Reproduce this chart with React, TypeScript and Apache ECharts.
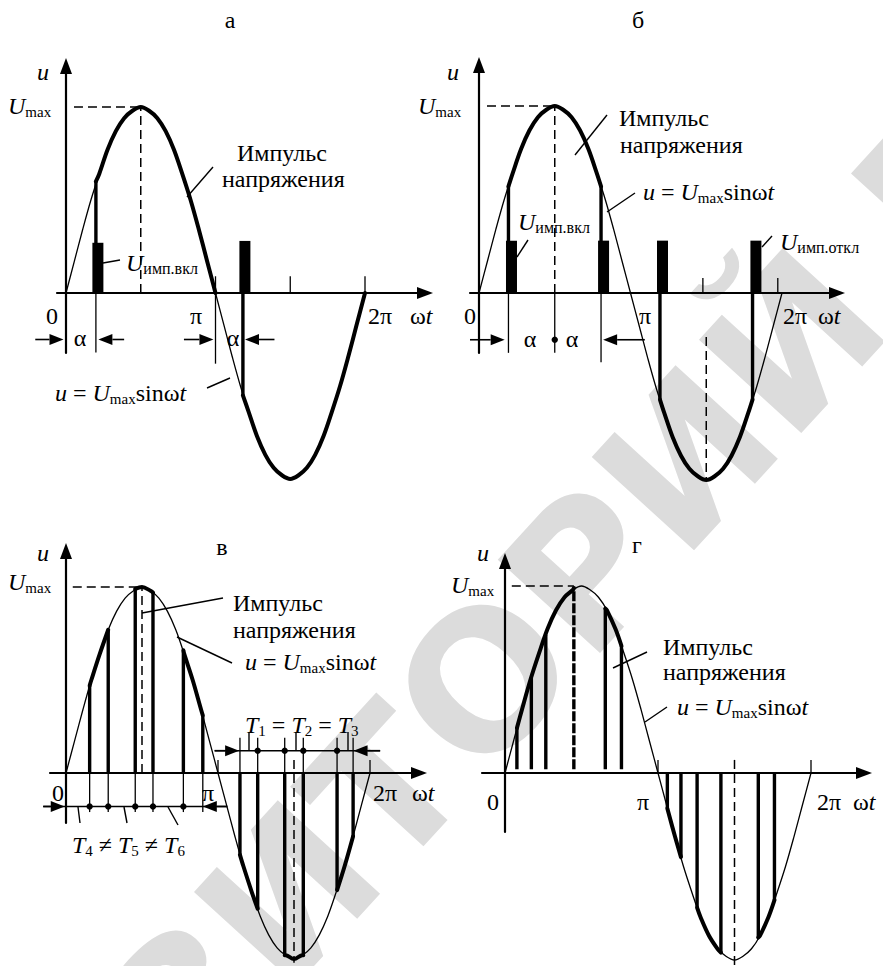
import React, { useEffect, useRef } from 'react';
import * as echarts from 'echarts';

// ---------- data (degrees of ωt, values in units of Umax) ----------
const SINE_DEG = [0, 10, 20, 30, 40, 50, 60, 70, 80, 90, 100, 110, 120, 130, 140, 150, 160, 170, 180,
  190, 200, 210, 220, 230, 240, 250, 260, 270, 280, 290, 300, 310, 320, 330, 340, 350, 360];
const SINE_VAL = [0, 0.17, 0.34, 0.5, 0.64, 0.77, 0.87, 0.94, 0.98, 1, 0.98, 0.94, 0.87, 0.77, 0.64, 0.5, 0.34, 0.17, 0,
  -0.17, -0.34, -0.5, -0.64, -0.77, -0.87, -0.94, -0.98, -1, -0.98, -0.94, -0.87, -0.77, -0.64, -0.5, -0.34, -0.17, 0];

// panel а
const A_ARCS = [[36, 0.6, 180, 0], [213, -0.55, 360, 0]];
const A_THICK_V = [[36, 0, 0.6], [213, 0, -0.55]];
const A_THIN_V = [[36, 0, -0.32], [180, 0.09, -0.38], [270, 0, 0.09], [360, 0, 0.09]];
const A_DASH_V = [[90, 0, 1]];
const A_DASH_H = [[9.6, 90, 1]];
const A_PULSES = [[38.4, 0.27], [215.4, 0.28]];
const A_ARROWS = [[-37, -3, -0.25], [70, 39, -0.25], [142, 177.5, -0.25], [251, 215.5, -0.25]];

// panel б
const B_ARCS = [[35, 0.57, 145, 0.57], [215, -0.57, 325, -0.57]];
const B_THICK_V = [[35, 0, 0.57], [145, 0, 0.57], [215, 0, -0.57], [325, 0, -0.57]];
const B_THIN_V = [[35, 0, -0.32], [90, 0, -0.32], [145, 0, -0.37], [266, 0, 0.08], [355, 0, 0.08]];
const B_DASH_V = [[90, 0, 1], [270, -0.235, -1]];
const B_DASH_H = [[9.5, 90, 1]];
const B_PULSES = [[38.6, 0.28], [148, 0.28], [218, 0.28], [329, 0.28]];
const B_DOTS = [[90, -0.25]];
const B_ARROWS = [[-10.7, 30.5, -0.25], [197, 147.5, -0.25]];

// panel в
const C_POS_X = [28, 50, 82, 103, 139, 162];
const C_POS_U = [0.47, 0.77, 0.99, 0.97, 0.66, 0.31];
const C_NEG_X = [206, 227, 259, 281, 321, 340];
const C_NEG_U = [-0.44, -0.73, -0.98, -0.98, -0.63, -0.34];
const C_POS_EXT = -0.21;
const C_NEG_EXT = 0.19;
const C_THIN_V = [[180, 0, 0.07], [360, 0, 0.07]];
const C_DASH_V = [[90, 0, 1], [270, 0.07, -1.02]];
const C_DASH_H = [[8, 90, 1]];
const C_DIM_H = [[-27, 191, -0.18], [176, 372, 0.12]];
const C_ARROWS = [[-27, -1.5, -0.18], [191, 162, -0.18], [176, 205, 0.12], [372, 340.5, 0.12]];
const C_DOTS = [[28, -0.18], [50, -0.18], [82, -0.18], [103, -0.18], [139, -0.18],
  [227, 0.12], [259, 0.12], [281, 0.12], [321, 0.12]];

// panel г
const D_POS_X = [14, 31, 48, 81, 118, 137];
const D_POS_U = [0.24, 0.51, 0.74, 0.99, 0.88, 0.68];
const D_NEG_X = [191, 207, 226, 254, 298, 317];
const D_NEG_U = [-0.19, -0.45, -0.72, -0.96, -0.88, -0.68];
const D_ARCS = [[14, 0.24, 81, 0.99], [118, 0.88, 137, 0.68], [191, -0.19, 207, -0.45],
  [226, -0.72, 254, -0.96], [298, -0.88, 317, -0.68]];
const D_THIN_V = [[180, 0, 0.07], [360, 0, 0.07]];
const D_DASH_V = [[270, 0.07, -1.03]];
const D_DASH_H = [[8, 81, 1]];

// ---------- layout (pixels) ----------
const LAYOUT = [
  { originX: 66, degPx: 299 / 360, axisY: 293, amp: 186, xStart: 57, xTip: 433, yTip: 58, yBottom: 353 },
  { originX: 479, degPx: 303 / 360, axisY: 293, amp: 187, xStart: 470, xTip: 845, yTip: 57, yBottom: 353 },
  { originX: 66, degPx: 304 / 360, axisY: 773, amp: 186, xStart: 50, xTip: 427, yTip: 543, yBottom: 823 },
  { originX: 505, degPx: 306 / 360, axisY: 773, amp: 187, xStart: 482, xTip: 872, yTip: 553, yBottom: 832 },
];
const ARROW_H = 16;
const ARROW_W = 12;

const FONT = 'Liberation Serif';
const FS = 24;
const RICH = {
  i: { fontFamily: FONT, fontSize: FS, fontStyle: 'italic', lineHeight: 26 },
  r: { fontFamily: FONT, fontSize: FS, lineHeight: 26 },
  s: { fontFamily: FONT, fontSize: 15, lineHeight: 6, verticalAlign: 'bottom' },
  t: { fontFamily: FONT, fontSize: 16, lineHeight: 6, verticalAlign: 'bottom' },
};

const UMAX = '{i|U}{s|max}';
const FORMULA = '{i|u}{r| = }{i|U}{s|max}{r|sinω}{i|t}';
const OMEGA_T = '{r|ω}{i|t}';

const TEXTS: [number, number, string, string?][] = [
  // а
  [230, 20, 'а', 'center'], [43, 72, '{i|u}', 'center'], [8, 106, UMAX],
  [237, 153, 'Импульс'], [222, 179, 'напряжения'], [126, 263, '{i|U}{t|имп.вкл}'],
  [52, 316, '0', 'center'], [196, 316, 'π', 'center'], [368, 316, '2π'], [410, 316, OMEGA_T],
  [80, 338, 'α', 'center'], [233, 338, 'α', 'center'], [55, 393, FORMULA],
  // б
  [638, 20, 'б', 'center'], [453, 72, '{i|u}', 'center'], [418, 106, UMAX],
  [619, 118, 'Импульс'], [620, 145, 'напряжения'], [643, 192, FORMULA],
  [518, 222, '{i|U}{t|имп.вкл}'], [780, 242, '{i|U}{t|имп.откл}'],
  [470, 316, '0', 'center'], [645, 316, 'π', 'center'], [783, 316, '2π'], [818, 316, OMEGA_T],
  [530, 339, 'α', 'center'], [572, 339, 'α', 'center'],
  // в
  [222, 547, 'в', 'center'], [43, 553, '{i|u}', 'center'], [8, 582, UMAX],
  [233, 603, 'Импульс'], [233, 630, 'напряжения'], [245, 662, FORMULA],
  [245, 725, '{i|T}{s|1}{r| = }{i|T}{s|2}{r| = }{i|T}{s|3}'],
  [58, 793, '0', 'center'], [208, 793, 'π', 'center'], [373, 793, '2π'], [412, 793, OMEGA_T],
  [72, 845, '{i|T}{s|4}{r| ≠ }{i|T}{s|5}{r| ≠ }{i|T}{s|6}'],
  // г
  [637, 545, 'г', 'center'], [483, 553, '{i|u}', 'center'], [451, 585, UMAX],
  [663, 647, 'Импульс'], [663, 672, 'напряжения'], [677, 707, FORMULA],
  [493, 802, '0', 'center'], [643, 802, 'π', 'center'], [817, 802, '2π'], [853, 802, OMEGA_T],
];

const LEADERS = [
  [187, 197, 213, 167], [103, 263, 120, 260], [207, 388, 230, 378],
  [575, 155, 607, 115], [607, 212, 635, 193], [517, 257, 528, 240], [762, 247, 772, 236],
  [142, 613, 223, 598], [177, 637, 232, 663], [78, 807, 80, 823], [124, 807, 127, 823], [168, 807, 178, 825],
  [249, 732, 249, 750], [296, 732, 296, 750], [348, 732, 348, 750],
  [613, 668, 647, 652], [645, 722, 667, 707],
];

// ---------- helpers ----------
function arcPoints(a: number, av: number, b: number, bv: number) {
  const pts: number[][] = [[a, av]];
  SINE_DEG.forEach((d, k) => { if (d > a && d < b) pts.push([d, SINE_VAL[k]]); });
  pts.push([b, bv]);
  return pts;
}

function lineSeries(g: number, data: number[][], width: number) {
  return {
    type: 'line', xAxisIndex: g, yAxisIndex: g, data, smooth: 0.35, symbol: 'none', showSymbol: false,
    clip: false, silent: true, lineStyle: { color: '#000', width, cap: 'round', join: 'round' }, z: width > 2 ? 4 : 3,
  };
}

function custom(g: number, data: number[][], render: (api: any) => any, z = 5) {
  return {
    type: 'custom', coordinateSystem: 'cartesian2d', xAxisIndex: g, yAxisIndex: g, data, clip: false, silent: true, z,
    renderItem: (_p: any, api: any) => render(api),
  };
}

function vlines(g: number, data: number[][], width: number, dash?: number[]) {
  return custom(g, data, (api) => {
    const p0 = api.coord([api.value(0), api.value(1)]);
    const p1 = api.coord([api.value(0), api.value(2)]);
    return { type: 'line', shape: { x1: p0[0], y1: p0[1], x2: p1[0], y2: p1[1] }, style: { stroke: '#000', lineWidth: width, lineDash: dash } };
  });
}

function hlines(g: number, data: number[][], width: number, dash?: number[]) {
  return custom(g, data, (api) => {
    const p0 = api.coord([api.value(0), api.value(2)]);
    const p1 = api.coord([api.value(1), api.value(2)]);
    return { type: 'line', shape: { x1: p0[0], y1: p0[1], x2: p1[0], y2: p1[1] }, style: { stroke: '#000', lineWidth: width, lineDash: dash } };
  });
}

function pulses(g: number, data: number[][]) {
  return custom(g, data, (api) => {
    const b = api.coord([api.value(0), 0]);
    const t = api.coord([api.value(0), api.value(1)]);
    return { type: 'rect', shape: { x: b[0] - 5.5, y: t[1], width: 11, height: b[1] - t[1] }, style: { fill: '#000' } };
  }, 6);
}

function dots(g: number, data: number[][]) {
  return custom(g, data, (api) => {
    const c = api.coord([api.value(0), api.value(1)]);
    return { type: 'circle', shape: { cx: c[0], cy: c[1], r: 3.2 }, style: { fill: '#000' } };
  }, 7);
}

function arrows(g: number, data: number[][]) {
  return custom(g, data, (api) => {
    const tail = api.coord([api.value(0), api.value(2)]);
    const tip = api.coord([api.value(1), api.value(2)]);
    const dir = tip[0] > tail[0] ? 1 : -1;
    const L = 14, W = 5.5;
    return {
      type: 'group', children: [
        { type: 'line', shape: { x1: tail[0], y1: tail[1], x2: tip[0] - dir * L, y2: tip[1] }, style: { stroke: '#000', lineWidth: 1.6 } },
        { type: 'polygon', shape: { points: [[tip[0], tip[1]], [tip[0] - dir * L, tip[1] - W], [tip[0] - dir * L, tip[1] + W]] }, style: { fill: '#000' } },
      ],
    };
  }, 7);
}

const THIN = 1.3, THICK = 4, VTHICK = 3.4, DASH = [9, 5];

function panelSeries(g: number, p: any) {
  const s: any[] = [];
  s.push(lineSeries(g, SINE_DEG.map((d, k) => [d, SINE_VAL[k]]), THIN));
  p.arcs.forEach((a: number[]) => s.push(lineSeries(g, arcPoints(a[0], a[1], a[2], a[3]), THICK)));
  if (p.thickV) s.push(vlines(g, p.thickV, VTHICK));
  if (p.thinV) s.push(vlines(g, p.thinV, THIN));
  if (p.dashV) s.push(vlines(g, p.dashV, 1.5, DASH));
  if (p.dashThickV) s.push(vlines(g, p.dashThickV, VTHICK, [10, 2]));
  if (p.dashH) s.push(hlines(g, p.dashH, 1.5, DASH));
  if (p.dimH) s.push(hlines(g, p.dimH, 1.6));
  if (p.pulses) s.push(pulses(g, p.pulses));
  if (p.arrows) s.push(arrows(g, p.arrows));
  if (p.dots) s.push(dots(g, p.dots));
  return s;
}

function textEl(x: number, y: number, text: string, align?: string) {
  const isRich = text.indexOf('{') >= 0;
  const style: any = isRich
    ? { text, fill: '#000', rich: RICH, align: align || 'left', verticalAlign: 'middle' }
    : { text, fill: '#000', fontFamily: FONT, fontSize: FS, align: align || 'left', verticalAlign: 'middle' };
  return { type: 'text', x, y, z: 20, style };
}

function buildOption() {
  const grid: any[] = [], xAxis: any[] = [], yAxis: any[] = [];
  LAYOUT.forEach((L, g) => {
    const right = L.xTip - ARROW_H / 2;
    const top = L.yTip + ARROW_H / 2;
    grid.push({ left: L.xStart, top, width: right - L.xStart, height: L.yBottom - top, outerBoundsMode: 'none' });
    const axisLine = { onZero: true, symbol: ['none', 'triangle'], symbolSize: [ARROW_W, ARROW_H], lineStyle: { color: '#000', width: 2.2 } };
    xAxis.push({
      gridIndex: g, type: 'value', min: (L.xStart - L.originX) / L.degPx, max: (right - L.originX) / L.degPx,
      axisLine, axisTick: { show: false }, axisLabel: { show: false }, splitLine: { show: false },
    });
    yAxis.push({
      gridIndex: g, type: 'value', min: -(L.yBottom - L.axisY) / L.amp, max: (L.axisY - top) / L.amp,
      axisLine, axisTick: { show: false }, axisLabel: { show: false }, splitLine: { show: false },
    });
  });

  const C_THICK_V = [
    ...C_POS_X.map((x, k) => [x, 0, C_POS_U[k]]),
    ...C_NEG_X.map((x, k) => [x, 0, C_NEG_U[k]]),
  ];
  const C_EXT_V = [
    ...C_POS_X.map((x) => [x, 0, C_POS_EXT]),
    ...C_NEG_X.map((x) => [x, 0, C_NEG_EXT]),
  ];
  const C_ARCS: number[][] = [];
  for (let k = 0; k < C_POS_X.length; k += 2) C_ARCS.push([C_POS_X[k], C_POS_U[k], C_POS_X[k + 1], C_POS_U[k + 1]]);
  for (let k = 0; k < C_NEG_X.length; k += 2) C_ARCS.push([C_NEG_X[k], C_NEG_U[k], C_NEG_X[k + 1], C_NEG_U[k + 1]]);

  const D_THICK_V = [
    ...D_POS_X.map((x, k) => [x, 0.02, D_POS_U[k]]).filter((_, k) => k !== 3),
    ...D_NEG_X.map((x, k) => [x, 0, D_NEG_U[k]]),
  ];
  const D_DASH_THICK = [[D_POS_X[3], 0.02, D_POS_U[3]]];

  const series = [
    ...panelSeries(0, { arcs: A_ARCS, thickV: A_THICK_V, thinV: A_THIN_V, dashV: A_DASH_V, dashH: A_DASH_H, pulses: A_PULSES, arrows: A_ARROWS }),
    ...panelSeries(1, { arcs: B_ARCS, thickV: B_THICK_V, thinV: B_THIN_V, dashV: B_DASH_V, dashH: B_DASH_H, pulses: B_PULSES, arrows: B_ARROWS, dots: B_DOTS }),
    ...panelSeries(2, { arcs: C_ARCS, thickV: C_THICK_V, thinV: [...C_THIN_V, ...C_EXT_V], dashV: C_DASH_V, dashH: C_DASH_H, dimH: C_DIM_H, arrows: C_ARROWS, dots: C_DOTS }),
    ...panelSeries(3, { arcs: D_ARCS, thickV: D_THICK_V, dashThickV: D_DASH_THICK, thinV: D_THIN_V, dashV: D_DASH_V, dashH: D_DASH_H }),
  ];

  const graphic: any[] = [
    {
      type: 'text', x: 560, y: 600, rotation: 0.83, z: -10,
      style: { text: 'РЕПОЗИТОРИЙ БГУИР', fill: '#dcdcdc', fontFamily: 'DejaVu Sans', fontSize: 190, fontWeight: 'bold', align: 'center', verticalAlign: 'middle' },
    },
    ...TEXTS.map(([x, y, text, align]) => textEl(x, y, text, align)),
    ...LEADERS.map(([x1, y1, x2, y2]) => ({
      type: 'line', z: 20, shape: { x1, y1, x2, y2 }, style: { stroke: '#000', lineWidth: 1.4 },
    })),
  ];

  return { animation: false, backgroundColor: '#fff', grid, xAxis, yAxis, series, graphic };
}

export default function App() {
  const ref = useRef<HTMLDivElement>(null);
  useEffect(() => {
    const chart = echarts.init(ref.current!, null, { renderer: 'svg' });
    chart.setOption(buildOption() as any);
    return () => chart.dispose();
  }, []);
  return <div ref={ref} style={{ position: 'absolute', left: 0, top: 0, width: 883, height: 966, background: '#fff' }} />;
}
